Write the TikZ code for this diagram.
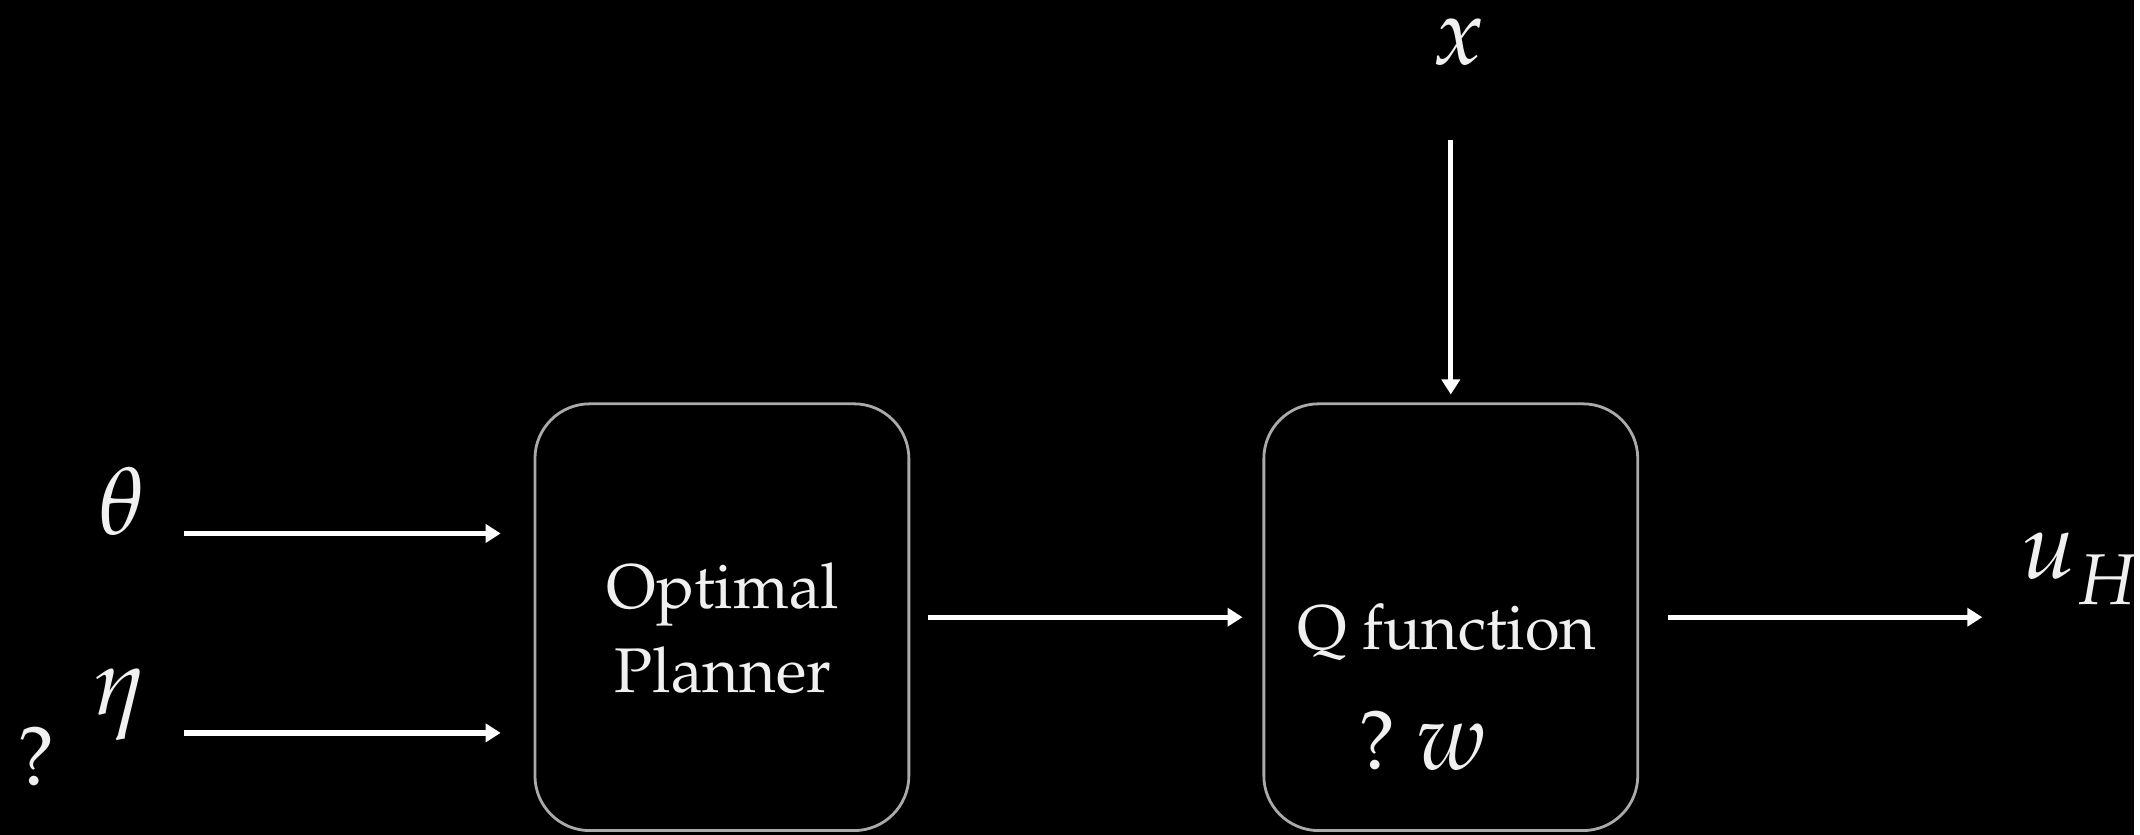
\documentclass[tikz,border=0pt]{standalone}
\usepackage[T1]{fontenc}
\usepackage{mathpazo}
\usetikzlibrary{arrows.meta}
\definecolor{boxgray}{RGB}{170,170,170}
\definecolor{inkwhite}{RGB}{240,240,240}
\newcommand{\bigmath}{\fontsize{27}{32}\selectfont}
\newcommand{\qmark}{\fontsize{24}{28}\selectfont}
\newcommand{\boxfont}{\fontsize{18}{24}\selectfont}
\begin{document}
\begin{tikzpicture}[x=1cm,y=1cm,
  blk/.style={draw=boxgray,line width=0.8pt,rounded corners=0.55cm,minimum width=3.75cm,minimum height=4.28cm,inner sep=0pt},
  sig/.style={draw=white,line width=1.5pt,-{Triangle[length=0.15cm,width=0.18cm]}},
  lbl/.style={text=inkwhite,inner sep=0pt,anchor=base}]
\fill[black] (0,0) rectangle (21.40,8.37);
\node[blk] (plan) at (7.24,2.18) {};
\node[blk] (qf) at (14.55,2.18) {};
\node[lbl,font=\boxfont] (opt) at (7.25,2.27) {Optimal};
\node[lbl,font=\boxfont] (pln) at (7.25,1.42) {Planner};
\node[lbl,font=\boxfont] (qtxt) at (14.51,1.86) {Q function};
\node[lbl] (wq) at (14.27,0.65) {{\qmark ?}\hspace{0.2cm}{\bigmath $w$}};
\node[lbl,font=\bigmath] (theta) at (1.22,3.01) {$\theta$};
\node[lbl,font=\bigmath] (eta) at (1.21,1.20) {$\eta$};
\node[lbl,font=\qmark] (etaq) at (0.36,0.49) {?};
\node[lbl,font=\bigmath] (xin) at (14.63,7.72) {$x$};
\node[lbl,font=\bigmath,anchor=base west] (uh) at (20.26,2.57) {$u_{\raisebox{-0.12cm}{$\scriptstyle H$}}$};
\coordinate (thetain) at (1.85,3.02);
\coordinate (etain) at (1.85,1.02);
\coordinate (xtop) at (14.55,6.97);
\coordinate (uout) at (19.88,2.18);
\draw[sig,shorten >=0.33cm] (thetain) -- (thetain -| plan.west);
\draw[sig,shorten >=0.33cm] (etain) -- (etain -| plan.west);
\draw[sig,shorten <=0.18cm,shorten >=0.20cm] (plan.east) -- (qf.west);
\draw[sig,shorten >=0.08cm] (xtop) -- (qf.north);
\draw[sig,shorten <=0.29cm] (qf.east) -- (uout);
\end{tikzpicture}
\end{document}
